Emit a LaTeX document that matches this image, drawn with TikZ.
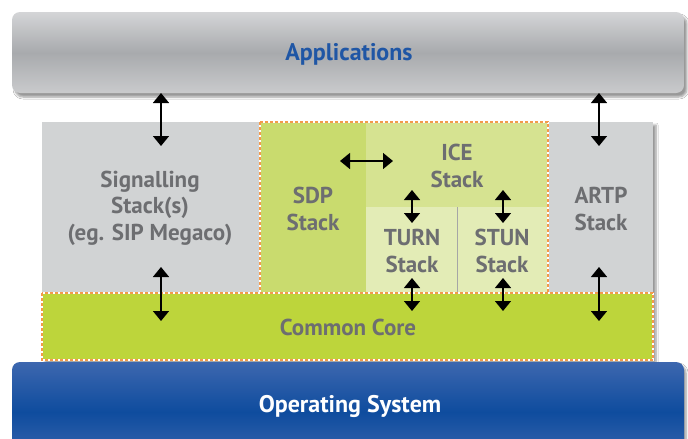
\documentclass[tikz,border=0pt]{standalone}
\usepackage{fontspec}
\setmainfont{PT Sans}
\usetikzlibrary{arrows.meta,shadows.blur}
\definecolor{stackgray}{HTML}{D1D3D4}
\definecolor{sdpgreen}{HTML}{C9DB6E}
\definecolor{icegreen}{HTML}{D6E391}
\definecolor{turngreen}{HTML}{E3ECB6}
\definecolor{coregreen}{HTML}{BDD53B}
\definecolor{txtgray}{HTML}{6D6E71}
\definecolor{appblue}{HTML}{1F56A5}
\definecolor{dashorange}{HTML}{F39A4C}
\definecolor{osmid}{HTML}{0E4C9E}
\definecolor{ostop}{HTML}{3D67AF}
\definecolor{appmid}{HTML}{A8AAAD}
\definecolor{apptop}{HTML}{D4D5D7}
\tikzset{
  box/.style={rectangle, inner sep=0pt, outer sep=0pt, draw=none},
  lbl/.style={text=txtgray, font=\fontsize{23}{26.5}\selectfont\bfseries, align=center, inner sep=0pt},
  dbl/.style={line width=1.4pt, {Triangle[width=16pt,length=10pt]}-{Triangle[width=16pt,length=10pt]}},
  dashw/.style={white, line width=1.2pt},
  dasho/.style={dashorange, line width=1.2pt, dash pattern=on 3pt off 2pt},
}
\begin{document}
\begin{tikzpicture}[x=1pt,y=-1pt]
\clip (0,0) rectangle (688,439);
\fill[white] (0,0) rectangle (688,439);
% Applications
\node[box, rounded corners=8pt, minimum width=672pt, minimum height=81pt,
  top color=apptop, bottom color=apptop!95!black, middle color=appmid,
  blur shadow={shadow xshift=3pt, shadow yshift=-4pt, shadow blur steps=6}] (app) at (348,52.5) {};
\node[text=appblue, font=\fontsize{24}{28}\selectfont\bfseries] (apptxt) at (349,54) {Applications};
% middle background with shadow
\node[box, fill=stackgray, minimum width=611pt, minimum height=238pt,
  blur shadow={shadow xshift=3pt, shadow yshift=-3pt, shadow blur steps=6}] (mid) at (347.5,241) {};
% stacks
\node[box, fill=stackgray, minimum width=219pt, minimum height=171pt] (sig) at (151.5,207.5) {};
\node[box, fill=sdpgreen, minimum width=106pt, minimum height=171pt] (sdp) at (313,207.5) {};
\node[box, fill=icegreen, minimum width=182pt, minimum height=85pt] (ice) at (457,164.5) {};
\node[box, fill=turngreen, minimum width=91pt, minimum height=86pt] (turn) at (411.5,250) {};
\node[box, fill=turngreen, minimum width=91pt, minimum height=86pt] (stun) at (502.5,250) {};
\node[box, fill=stackgray, minimum width=105pt, minimum height=171pt] (artp) at (600.5,207.5) {};
\node[box, fill=coregreen, minimum width=611pt, minimum height=67pt] (core) at (347.5,326.5) {};
\draw[black!35, line width=1pt] (turn.north east) -- (turn.south east);
% dashed borders
\draw[dashw] (sdp.north west) rectangle (stun.south east);
\draw[dasho] (sdp.north west) rectangle (stun.south east);
\draw[dashw] (core.north west) rectangle (core.south east);
\draw[dasho] (core.north west) rectangle (core.south east);
% Operating system
\node[box, rounded corners=8pt, minimum width=672pt, minimum height=100pt,
  top color=ostop, bottom color=ostop, middle color=osmid,
  blur shadow={shadow xshift=2pt, shadow yshift=-3pt, shadow blur steps=6}] (os) at (348,412) {};
\node[text=white, font=\fontsize{24}{28}\selectfont\bfseries] (ostxt) at (350,406) {Operating System};
% labels
\node[lbl] (sigtxt) at (150,208) {Signalling\\Stack(s)\\(eg. SIP Megaco)};
\node[lbl] (sdptxt) at (313,209) {SDP\\Stack};
\node[lbl] (icetxt) at (457,166) {ICE\\Stack};
\node[lbl] (turntxt) at (412,251) {TURN\\Stack};
\node[lbl] (stuntxt) at (502,251) {STUN\\Stack};
\node[lbl] (artptxt) at (601,209) {ARTP\\Stack};
\node[lbl] (coretxt) at (348,327) {Common Core};
% arrow end points
\coordinate (s1a) at (161,93); \coordinate (s1b) at (161,146);
\coordinate (s2a) at (161,267); \coordinate (s2b) at (161,321);
\coordinate (r1a) at (599,93); \coordinate (r1b) at (599,146);
\coordinate (r2a) at (599,267); \coordinate (r2b) at (599,321);
\coordinate (ha) at (340,161); \coordinate (hb) at (393,161);
\coordinate (t1a) at (412,190); \coordinate (t1b) at (412,223);
\coordinate (u1a) at (503,190); \coordinate (u1b) at (503,223);
\coordinate (t2a) at (412,278); \coordinate (t2b) at (412,311);
\coordinate (u2a) at (503,278); \coordinate (u2b) at (503,311);
\draw[dbl] (s1a) -- (s1b);
\draw[dbl] (s2a) -- (s2b);
\draw[dbl] (r1a) -- (r1b);
\draw[dbl] (r2a) -- (r2b);
\draw[dbl] (ha) -- (hb);
\draw[dbl] (t1a) -- (t1b);
\draw[dbl] (u1a) -- (u1b);
\draw[dbl] (t2a) -- (t2b);
\draw[dbl] (u2a) -- (u2b);
\end{tikzpicture}
\end{document}
